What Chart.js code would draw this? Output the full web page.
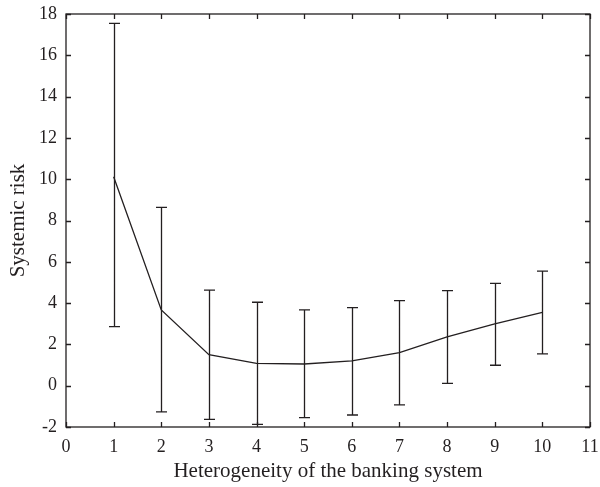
<!DOCTYPE html>
<html>
<head>
<meta charset="utf-8">
<script src="https://cdn.jsdelivr.net/npm/chart.js@4.4.1/dist/chart.umd.min.js"></script>
<style>
  html, body { margin: 0; padding: 0; background: #fff; }
  #wrap { width: 600px; height: 487px; }
</style>
</head>
<body>
<div id="wrap"><canvas id="c" width="600" height="487"></canvas></div>
<script>
// Heterogeneity level of the banking system
const heterogeneity = [1, 2, 3, 4, 5, 6, 7, 8, 9, 10];
// Mean systemic risk at each level
const riskMean = [10.12, 3.67, 1.50, 1.08, 1.05, 1.20, 1.60, 2.37, 2.99, 3.55];
// Error bar ends
const riskUpper = [17.55, 8.64, 4.63, 4.04, 3.67, 3.78, 4.12, 4.60, 4.96, 5.55];
const riskLower = [2.86, -1.27, -1.63, -1.87, -1.55, -1.42, -0.93, 0.11, 0.99, 1.54];
// Axis ranges
const xMin = 0, xMax = 11, xStep = 1;
const yMin = -2, yMax = 18, yStep = 2;

const ink = '#231f20';
const fontFamily = '"Liberation Serif", "DejaVu Serif", serif';

// Frame with inward ticks on all four sides
const framePlugin = {
  id: 'frame',
  afterDraw(chart) {
    const { ctx, chartArea: a, scales } = chart;
    const len = 5;
    ctx.save();
    ctx.strokeStyle = ink;
    ctx.lineWidth = 1.3;
    ctx.strokeRect(a.left, a.top, a.right - a.left, a.bottom - a.top);
    ctx.beginPath();
    scales.x.ticks.forEach(t => {
      const px = Math.round(scales.x.getPixelForValue(t.value)) + 0.5;
      ctx.moveTo(px, a.bottom); ctx.lineTo(px, a.bottom - len);
      ctx.moveTo(px, a.top); ctx.lineTo(px, a.top + len);
    });
    scales.y.ticks.forEach(t => {
      const py = Math.round(scales.y.getPixelForValue(t.value)) + 0.5;
      ctx.moveTo(a.left, py); ctx.lineTo(a.left + len, py);
      ctx.moveTo(a.right, py); ctx.lineTo(a.right - len, py);
    });
    ctx.stroke();
    ctx.restore();
  }
};

// Vertical error bars with caps
const errorBarPlugin = {
  id: 'errorBars',
  afterDatasetsDraw(chart) {
    const { ctx, scales } = chart;
    const cap = 5.5;
    ctx.save();
    ctx.strokeStyle = ink;
    ctx.lineWidth = 1.3;
    ctx.beginPath();
    heterogeneity.forEach((xv, i) => {
      const px = Math.round(scales.x.getPixelForValue(xv)) + 0.5;
      const yTop = scales.y.getPixelForValue(riskUpper[i]);
      const yBot = scales.y.getPixelForValue(riskLower[i]);
      ctx.moveTo(px, yTop); ctx.lineTo(px, yBot);
      ctx.moveTo(px - cap, yTop); ctx.lineTo(px + cap, yTop);
      ctx.moveTo(px - cap, yBot); ctx.lineTo(px + cap, yBot);
    });
    ctx.stroke();
    ctx.restore();
  }
};

new Chart(document.getElementById('c'), {
  type: 'line',
  data: {
    datasets: [{
      data: heterogeneity.map((x, i) => ({ x, y: riskMean[i] })),
      borderColor: ink,
      borderWidth: 1.3,
      pointRadius: 0,
      tension: 0,
      fill: false
    }]
  },
  options: {
    responsive: false,
    animation: false,
    devicePixelRatio: 1,
    layout: { padding: { top: 14, right: 10, left: 0, bottom: 0 } },
    plugins: { legend: { display: false }, tooltip: { enabled: false } },
    scales: {
      x: {
        type: 'linear',
        min: xMin, max: xMax,
        grid: { display: false, drawTicks: false },
        border: { display: false },
        ticks: { stepSize: xStep, padding: 9, color: ink, font: { family: fontFamily, size: 18 } },
        title: { display: true, text: 'Heterogeneity of the banking system', color: ink,
                 font: { family: fontFamily, size: 21 }, padding: { top: 0, bottom: 3 } },
        afterFit(s) { s.height = 60; s.paddingLeft = 0; s.paddingRight = 0; }
      },
      y: {
        min: yMin, max: yMax,
        grid: { display: false, drawTicks: false },
        border: { display: false },
        ticks: { stepSize: yStep, padding: 9, color: ink, font: { family: fontFamily, size: 18 } },
        title: { display: true, text: 'Systemic risk', color: ink,
                 font: { family: fontFamily, size: 21 }, padding: { top: 6, bottom: 0 } },
        afterFit(s) { s.width = 66; s.paddingTop = 0; s.paddingBottom = 0; }
      }
    }
  },
  plugins: [errorBarPlugin, framePlugin]
});
</script>
</body>
</html>
